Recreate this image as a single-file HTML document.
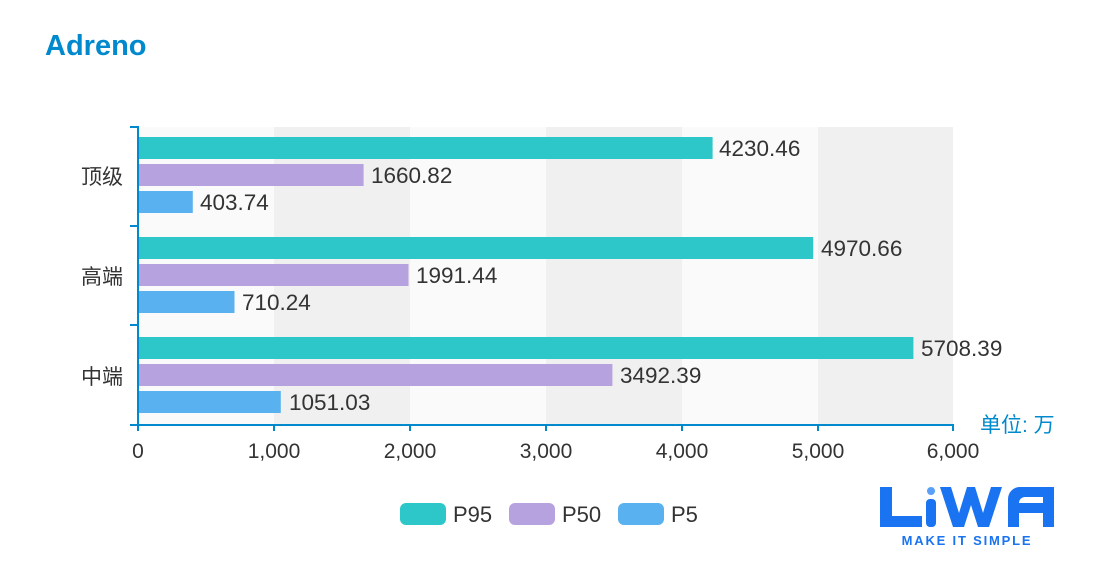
<!DOCTYPE html><html><head><meta charset="utf-8"><style>body{margin:0;background:#fff}svg{display:block}text{font-family:"Liberation Sans","Noto Sans CJK SC",sans-serif}</style></head><body>
<svg width="1098" height="571" viewBox="0 0 1098 571">
<rect width="1098" height="571" fill="#fff"/>
<text x="45" y="55" font-size="29" font-weight="bold" fill="#008acd">Adreno</text>
<rect x="138" y="127" width="136" height="298" fill="#fafafa"/>
<rect x="274" y="127" width="136" height="298" fill="#f0f0f0"/>
<rect x="410" y="127" width="136" height="298" fill="#fafafa"/>
<rect x="546" y="127" width="136" height="298" fill="#f0f0f0"/>
<rect x="682" y="127" width="136" height="298" fill="#fafafa"/>
<rect x="818" y="127" width="135" height="298" fill="#f0f0f0"/>
<g fill="#2ec7c9"><rect x="138" y="137" width="574.6" height="22"/><rect x="138" y="237" width="675.2" height="22"/><rect x="138" y="337" width="775.4" height="22"/></g>
<g fill="#b6a2de"><rect x="138" y="164" width="225.6" height="22"/><rect x="138" y="264" width="270.5" height="22"/><rect x="138" y="364" width="474.4" height="22"/></g>
<g fill="#5ab1ef"><rect x="138" y="191" width="54.8" height="22"/><rect x="138" y="291" width="96.5" height="22"/><rect x="138" y="391" width="142.8" height="22"/></g>
<g font-size="22.5" fill="#333">
<text x="719" y="156">4230.46</text><text x="371" y="183">1660.82</text><text x="200" y="210">403.74</text>
<text x="821" y="256">4970.66</text><text x="416" y="283">1991.44</text><text x="242" y="310">710.24</text>
<text x="921" y="356">5708.39</text><text x="620" y="383">3492.39</text><text x="289" y="410">1051.03</text>
</g>
<g stroke="#008acd" stroke-width="2" fill="none">
<line x1="138" y1="126" x2="138" y2="426"/><line x1="137" y1="425" x2="954" y2="425"/>
<line x1="130" y1="127" x2="138" y2="127"/><line x1="130" y1="226" x2="138" y2="226"/><line x1="130" y1="325" x2="138" y2="325"/><line x1="130" y1="425" x2="138" y2="425"/>
<line x1="138" y1="425" x2="138" y2="431"/><line x1="274" y1="425" x2="274" y2="431"/><line x1="410" y1="425" x2="410" y2="431"/><line x1="546" y1="425" x2="546" y2="431"/><line x1="682" y1="425" x2="682" y2="431"/><line x1="818" y1="425" x2="818" y2="431"/><line x1="953" y1="425" x2="953" y2="431"/>
</g>
<g font-size="21" fill="#333">
<text x="81" y="184">顶级</text><text x="81" y="284">高端</text><text x="81" y="384">中端</text>
</g>
<g font-size="21" fill="#333" text-anchor="middle">
<text x="138" y="458">0</text><text x="274" y="458">1,000</text><text x="410" y="458">2,000</text><text x="546" y="458">3,000</text><text x="682" y="458">4,000</text><text x="818" y="458">5,000</text><text x="953" y="458">6,000</text>
</g>
<text x="980" y="432" font-size="21" fill="#008acd">单位: 万</text>
<g font-size="22" fill="#333">
<rect x="400" y="503" width="46" height="22" rx="6" fill="#2ec7c9"/><text x="453" y="522">P95</text>
<rect x="509" y="503" width="46" height="22" rx="6" fill="#b6a2de"/><text x="562" y="522">P50</text>
<rect x="618" y="503" width="46" height="22" rx="6" fill="#5ab1ef"/><text x="671" y="522">P5</text>
</g>
<g fill="#1a73f0">
<path d="M880 487h12v29h30v11h-42z"/>
<rect x="926" y="499" width="10" height="28" rx="4"/><circle cx="931" cy="491" r="4" fill="#5aa0f8"/>
<path d="M940 487h11l8 26 8-26h8l8 26 8-26h11l-13 40h-11l-7-22-7 22h-11z"/>
<path d="M1008 527v-28a12 12 0 0 1 12-12h34v40h-11v-14h-24v14zM1019 503h24v-6h-18a6 6 0 0 0-6 6z"/>
</g>
<text x="967" y="545" font-size="13" font-weight="bold" fill="#1a73f0" text-anchor="middle" letter-spacing="1.8">MAKE IT SIMPLE</text>
</svg>
</body></html>
